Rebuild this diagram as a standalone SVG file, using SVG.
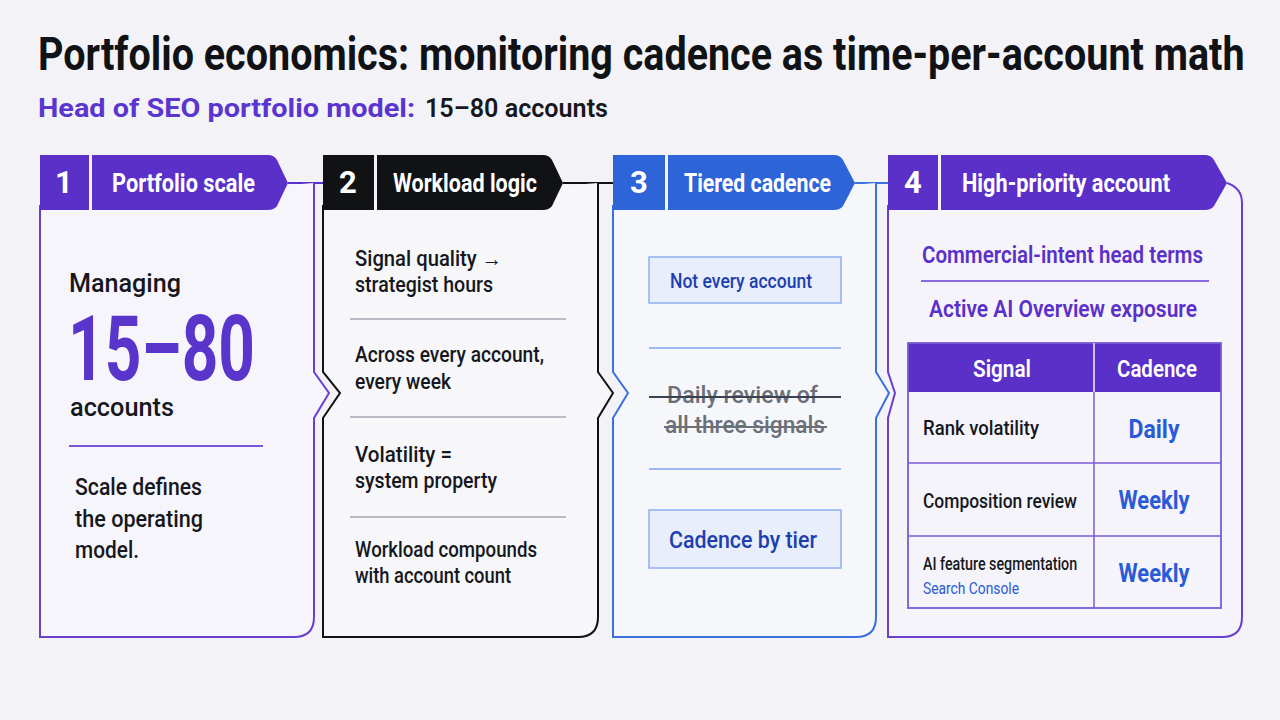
<svg xmlns="http://www.w3.org/2000/svg" width="1280" height="720" viewBox="0 0 1280 720">
<defs>
<style>
text{font-family:"Roboto","Liberation Sans","DejaVu Sans",sans-serif;}
.tab{fill:#fff;font-weight:700;}
.num{fill:#fff;font-weight:700;font-size:31px;text-anchor:middle;}
.body{fill:#16181d;font-weight:500;}
.p3{fill:#1d3fb0;font-weight:500;}
.p4{fill:#5a30c8;font-weight:600;}
.cad{fill:#2a5bd6;font-weight:700;font-size:25px;text-anchor:middle;}
.rowt{fill:#16181d;font-weight:500;font-size:20px;}
</style>
</defs>
<rect x="0" y="0" width="1280" height="720" fill="#f3f3f7"/>

<text transform="translate(38,70) scale(0.86,1)" x="0" y="0" font-size="46" font-weight="700" fill="#101216" textLength="1403" lengthAdjust="spacingAndGlyphs">Portfolio economics: monitoring cadence as time-per-account math</text>
<text x="38" y="117" font-size="25" font-weight="700" fill="#5b35d0" textLength="377" lengthAdjust="spacingAndGlyphs">Head of SEO portfolio model:</text>
<text x="425" y="117" font-size="25" font-weight="600" fill="#16181d" textLength="183" lengthAdjust="spacingAndGlyphs">15–80 accounts</text>

<g id="connectors" fill="none" stroke-width="2">
<line x1="288" y1="183" x2="323" y2="183" stroke="#5a30c8"/>
<line x1="563" y1="183" x2="613" y2="183" stroke="#111214"/>
<line x1="855" y1="183" x2="888" y2="183" stroke="#3a70e0"/>
</g>

<g id="panel1">
<path d="M314 183 L314 372 L329 393 L314 418 L314 617 Q314 637 294 637 L40 637 L40 205" fill="#f6f5fb" stroke="#6a3fd0" stroke-width="2"/>
<rect x="40" y="155" width="49" height="55" fill="#5a30c8"/>
<path d="M92 155 L268 155 Q274 155 277 160 L288 183 L277 206 Q274 210 268 210 L92 210 Z" fill="#5a30c8"/>
<text class="num" x="64" y="193">1</text>
<text class="tab" x="112" y="192" font-size="25" textLength="143" lengthAdjust="spacingAndGlyphs">Portfolio scale</text>
<text class="body" x="69" y="292" font-size="25" textLength="112" lengthAdjust="spacingAndGlyphs">Managing</text>
<text x="68" y="380" font-size="90" font-weight="700" fill="#5a35cc" textLength="187" lengthAdjust="spacingAndGlyphs">15–80</text>
<text class="body" x="70" y="416" font-size="25" textLength="104" lengthAdjust="spacingAndGlyphs">accounts</text>
<line x1="69" y1="446" x2="263" y2="446" stroke="#7b55d9" stroke-width="1.8"/>
<text class="body" x="75" y="495" font-size="23" textLength="127" lengthAdjust="spacingAndGlyphs">Scale defines</text>
<text class="body" x="75" y="527" font-size="23" textLength="128" lengthAdjust="spacingAndGlyphs">the operating</text>
<text class="body" x="75" y="558" font-size="23" textLength="64" lengthAdjust="spacingAndGlyphs">model.</text>
</g>

<g id="panel2">
<path d="M598 183 L598 372 L613 393 L598 418 L598 617 Q598 637 578 637 L323 637 L323 418 L340 393 L323 372 L323 205" fill="#f7f7f9" stroke="#111214" stroke-width="2"/>
<rect x="323" y="155" width="51" height="55" fill="#111214"/>
<path d="M377 155 L543 155 Q549 155 552 160 L563 183 L552 206 Q549 210 543 210 L377 210 Z" fill="#111214"/>
<text class="num" x="348" y="193">2</text>
<text class="tab" x="393" y="192" font-size="25" textLength="144" lengthAdjust="spacingAndGlyphs">Workload logic</text>
<g class="body" font-size="22">
<text x="355" y="266" textLength="147" lengthAdjust="spacingAndGlyphs">Signal quality →</text>
<text x="355" y="292" textLength="138" lengthAdjust="spacingAndGlyphs">strategist hours</text>
<text x="355" y="362" textLength="189" lengthAdjust="spacingAndGlyphs">Across every account,</text>
<text x="355" y="389" textLength="96" lengthAdjust="spacingAndGlyphs">every week</text>
<text x="355" y="462" textLength="97" lengthAdjust="spacingAndGlyphs">Volatility =</text>
<text x="355" y="488" textLength="142" lengthAdjust="spacingAndGlyphs">system property</text>
<text x="355" y="557" textLength="182" lengthAdjust="spacingAndGlyphs">Workload compounds</text>
<text x="355" y="583" textLength="156" lengthAdjust="spacingAndGlyphs">with account count</text>
</g>
<g stroke="#a3a7b0" stroke-width="1.5">
<line x1="350" y1="319" x2="566" y2="319"/>
<line x1="350" y1="417" x2="566" y2="417"/>
<line x1="350" y1="517" x2="566" y2="517"/>
</g>
</g>

<g id="panel3">
<path d="M876 183 L876 372 L889 393 L876 418 L876 617 Q876 637 856 637 L613 637 L613 418 L628 393 L613 372 L613 205" fill="#f6f7fb" stroke="#3a70e0" stroke-width="2"/>
<rect x="613" y="155" width="52" height="55" fill="#2d64d8"/>
<path d="M668 155 L834 155 Q840 155 843 160 L855 183 L843 206 Q840 210 834 210 L668 210 Z" fill="#2d64d8"/>
<text class="num" x="639" y="193">3</text>
<text class="tab" x="684" y="192" font-size="25" textLength="147" lengthAdjust="spacingAndGlyphs">Tiered cadence</text>
<rect x="649" y="257" width="192" height="46" fill="#e8eefb" stroke="#8fb0ee" stroke-width="1.5"/>
<text class="p3" x="670" y="288" font-size="21" textLength="142" lengthAdjust="spacingAndGlyphs">Not every account</text>
<line x1="649" y1="348" x2="841" y2="348" stroke="#7fa3ea" stroke-width="1.5"/>
<text x="667" y="403" font-size="23" font-weight="500" fill="#6b7079" textLength="151" lengthAdjust="spacingAndGlyphs">Daily review of</text>
<text x="665" y="433" font-size="23" font-weight="500" fill="#6b7079" textLength="160" lengthAdjust="spacingAndGlyphs">all three signals</text>
<line x1="649" y1="397" x2="841" y2="397" stroke="#3b4350" stroke-width="2"/>
<line x1="664" y1="427" x2="827" y2="427" stroke="#6b7079" stroke-width="2"/>
<line x1="649" y1="469" x2="841" y2="469" stroke="#7fa3ea" stroke-width="1.5"/>
<rect x="649" y="510" width="192" height="58" fill="#e8eefb" stroke="#8fb0ee" stroke-width="1.5"/>
<text class="p3" x="669" y="548" font-size="24" textLength="148" lengthAdjust="spacingAndGlyphs">Cadence by tier</text>
</g>

<g id="panel4">
<path d="M1227 183 Q1242 188 1242 203 L1242 617 Q1242 637 1222 637 L888 637 L888 418 L895 393 L888 372 L888 205" fill="#f5f4fb" stroke="#6a3fd0" stroke-width="2"/>
<rect x="888" y="155" width="50" height="55" fill="#5a30c8"/>
<path d="M941 155 L1205 155 Q1211 155 1214 160 L1227 183 L1214 206 Q1211 210 1205 210 L941 210 Z" fill="#5a30c8"/>
<text class="num" x="913" y="193">4</text>
<text class="tab" x="962" y="192" font-size="25" textLength="208" lengthAdjust="spacingAndGlyphs">High-priority account</text>
<text class="p4" x="922" y="263" font-size="23" textLength="281" lengthAdjust="spacingAndGlyphs">Commercial-intent head terms</text>
<line x1="921" y1="281" x2="1209" y2="281" stroke="#8a6ade" stroke-width="1.8"/>
<text class="p4" x="929" y="317" font-size="23" textLength="268" lengthAdjust="spacingAndGlyphs">Active AI Overview exposure</text>
<rect x="908" y="343" width="313" height="49" fill="#5a30c8"/>
<rect x="908" y="343" width="313" height="265" fill="none" stroke="#7a5bd8" stroke-width="1.8"/>
<g stroke="#7a5bd8" stroke-width="1.5">
<line x1="1094" y1="343" x2="1094" y2="608"/>
<line x1="908" y1="463" x2="1221" y2="463"/>
<line x1="908" y1="536" x2="1221" y2="536"/>
</g>
<line x1="1094" y1="343" x2="1094" y2="392" stroke="#e9e4fb" stroke-width="1.5"/>
<text x="1002" y="377" font-size="23" font-weight="600" fill="#fff" text-anchor="middle" textLength="58" lengthAdjust="spacingAndGlyphs">Signal</text>
<text x="1157" y="377" font-size="23" font-weight="600" fill="#fff" text-anchor="middle" textLength="80" lengthAdjust="spacingAndGlyphs">Cadence</text>
<text class="rowt" x="923" y="435" textLength="116" lengthAdjust="spacingAndGlyphs">Rank volatility</text>
<text class="cad" x="1154" y="438" textLength="51" lengthAdjust="spacingAndGlyphs">Daily</text>
<text class="rowt" x="923" y="508" textLength="154" lengthAdjust="spacingAndGlyphs">Composition review</text>
<text class="cad" x="1154" y="509" textLength="71" lengthAdjust="spacingAndGlyphs">Weekly</text>
<text transform="translate(923,570) scale(0.82,1)" x="0" y="0" font-size="19" font-weight="500" fill="#16181d" textLength="188" lengthAdjust="spacingAndGlyphs">AI feature segmentation</text>
<text x="923" y="594" font-size="16" font-weight="400" fill="#2a5bd6" textLength="96" lengthAdjust="spacingAndGlyphs">Search Console</text>
<text class="cad" x="1154" y="582" textLength="71" lengthAdjust="spacingAndGlyphs">Weekly</text>
</g>
</svg>
